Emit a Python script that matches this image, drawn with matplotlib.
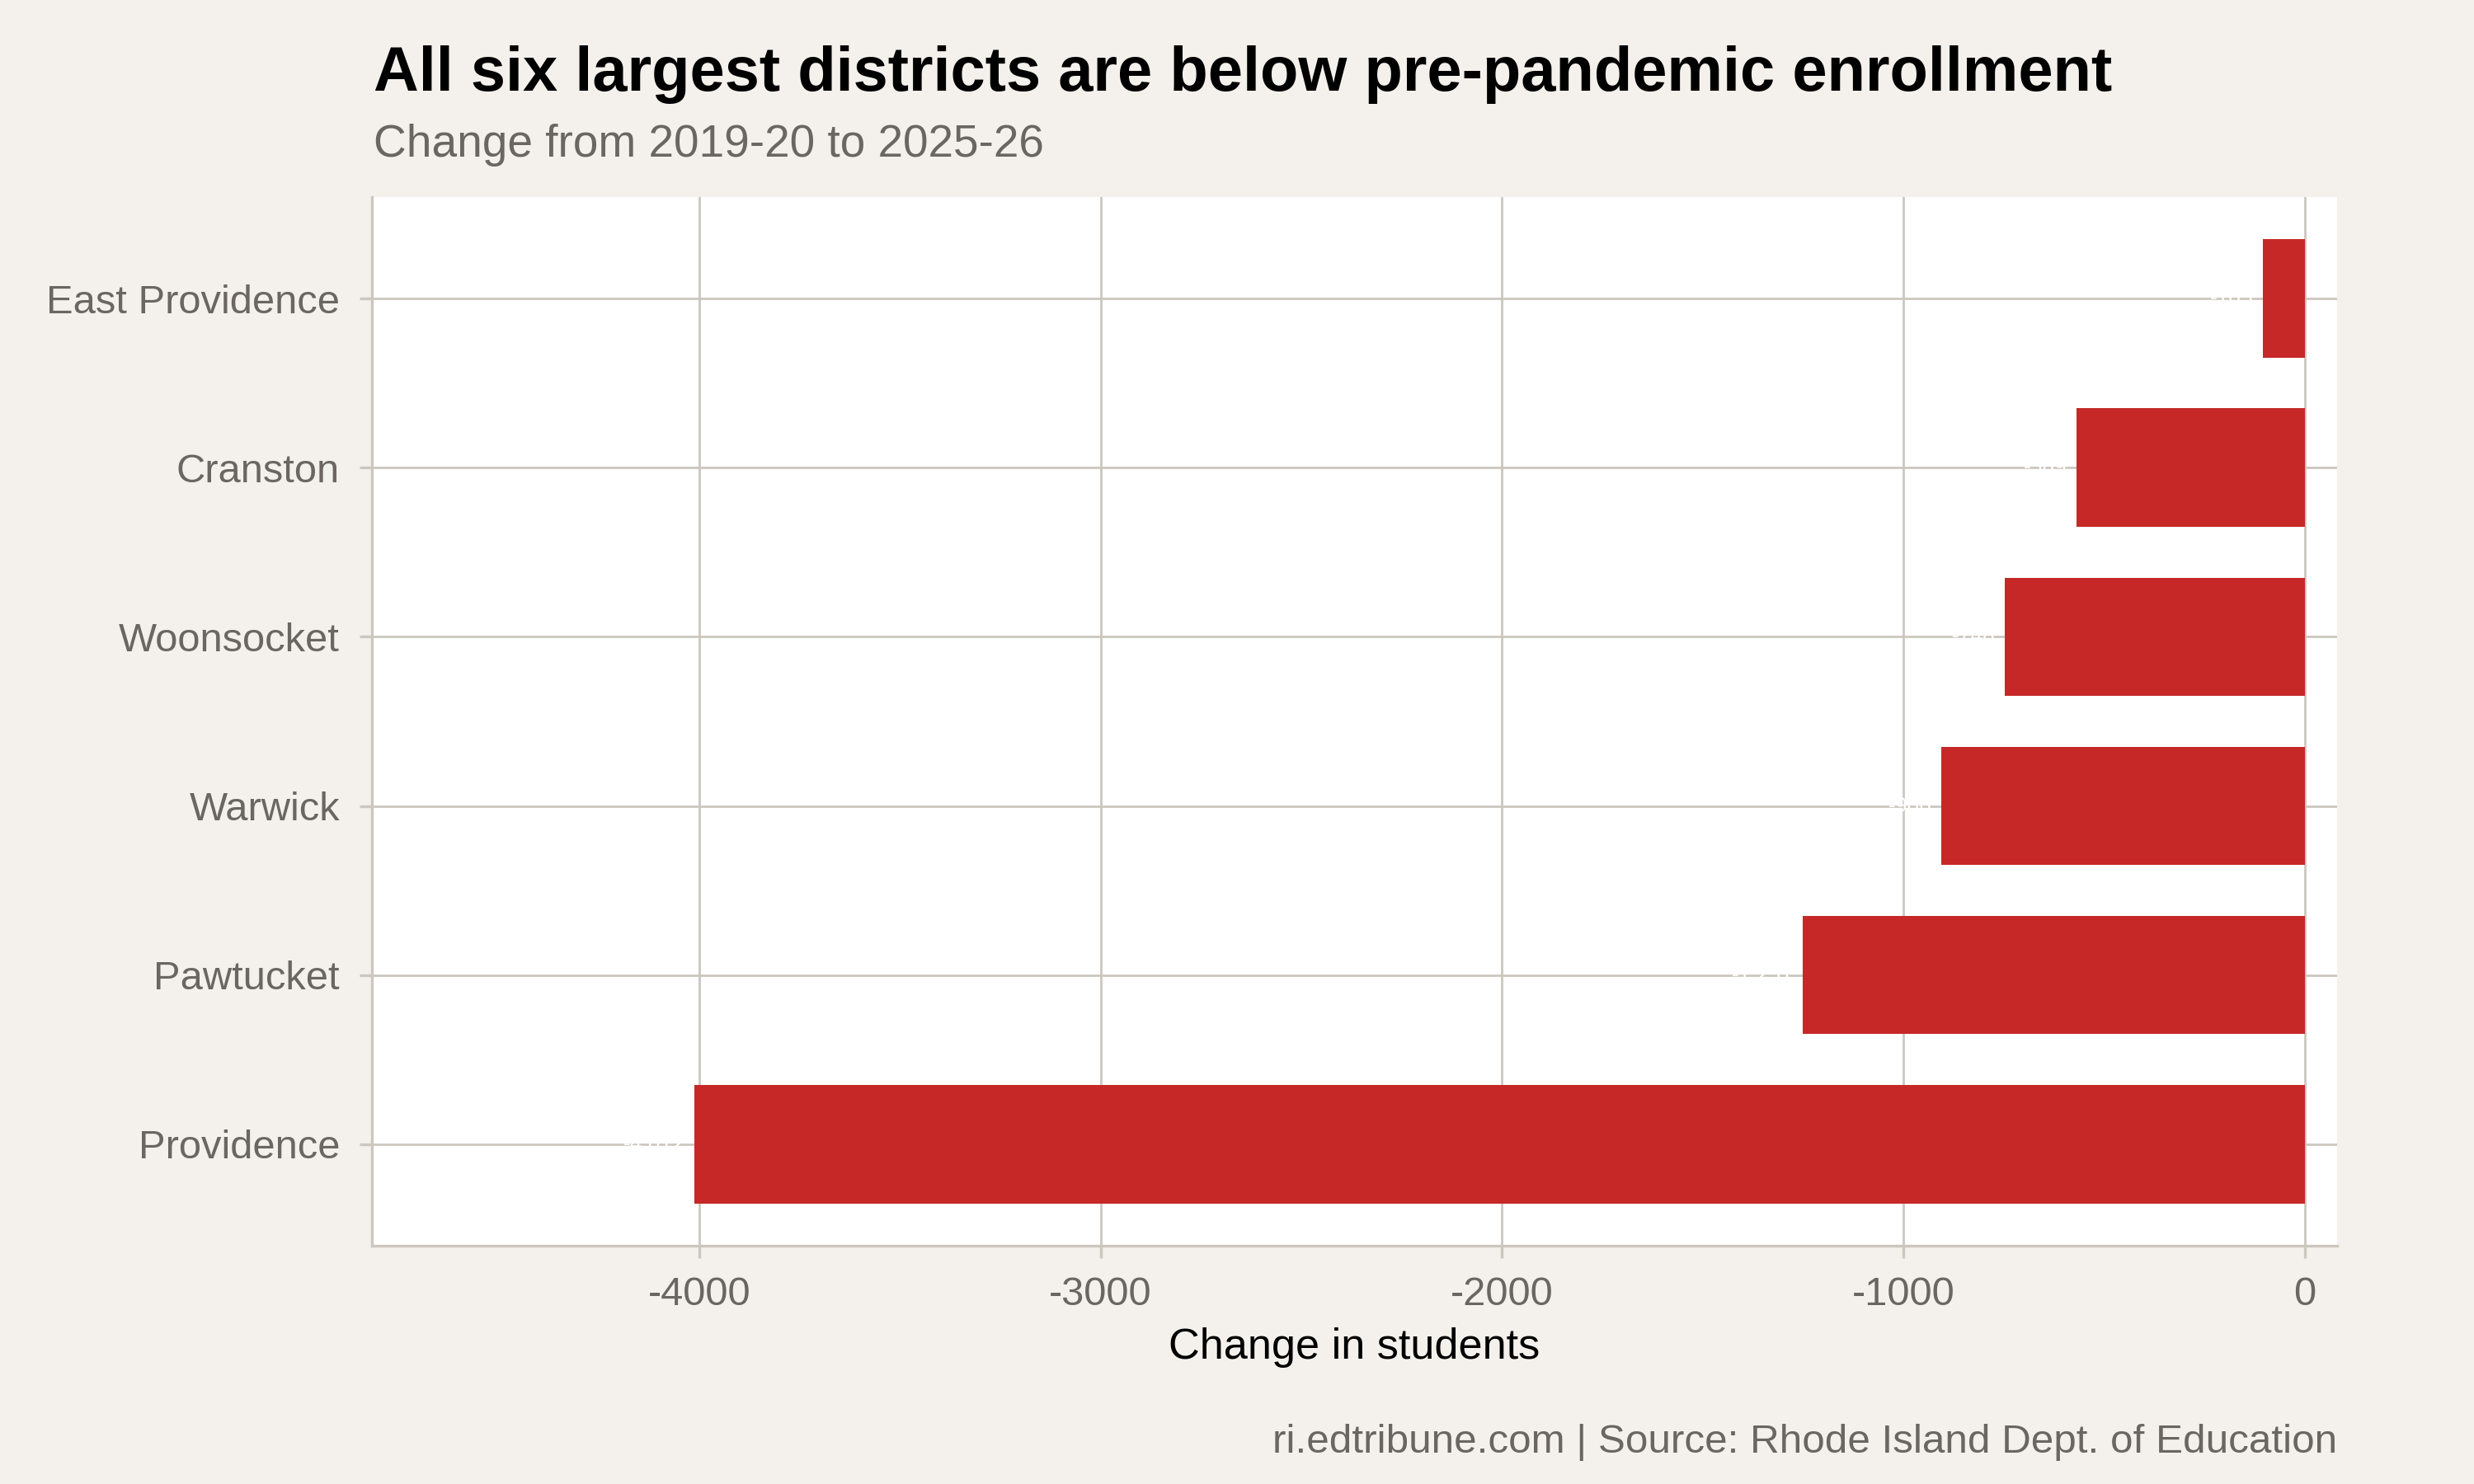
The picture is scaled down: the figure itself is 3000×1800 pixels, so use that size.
import matplotlib
matplotlib.use("Agg")
import matplotlib.pyplot as plt

districts = ["Providence", "Pawtucket", "Warwick", "Woonsocket", "Cranston", "East Providence"]
change = [-4012, -1251, -906, -748, -569, -105]
x_ticks = [-4000, -3000, -2000, -1000, 0]

BG = "#F4F1EC"
GRID = "#CCC7BE"
BAR = "#C62828"
GREY = "#6B6661"

plt.rcParams["font.family"] = ["Liberation Sans", "DejaVu Sans"]

fig = plt.figure(figsize=(15, 9), dpi=200, facecolor=BG)
ax = fig.add_axes([0.1503, 0.1606, 0.7944, 0.7066])
ax.set_facecolor("white")

ypos = list(range(1, len(districts) + 1))
ax.barh(ypos, change, height=0.7, color=BAR, zorder=3)
for y, v in zip(ypos, change):
    ax.annotate(f"{v:,}", xy=(v, y), xytext=(-4, 0), textcoords="offset points",
                ha="right", va="center", color="white", fontsize=9.5, zorder=4)

ax.set_xlim(-4815, 80)
ax.set_ylim(0.4, 6.6)
ax.set_yticks(ypos)
ax.set_yticklabels(districts)
ax.set_xticks(x_ticks)
ax.set_xticklabels([str(t) for t in x_ticks])

ax.grid(True, color=GRID, linewidth=1.0, zorder=0)
ax.set_axisbelow(True)
for s in ["top", "right"]:
    ax.spines[s].set_visible(False)
for s in ["left", "bottom"]:
    ax.spines[s].set_color(GRID)
    ax.spines[s].set_linewidth(1.2)
ax.tick_params(axis="x", colors=GRID, length=5.5, width=1.2, labelsize=17.6,
               labelcolor=GREY, pad=8)
ax.tick_params(axis="y", colors=GRID, length=5.5, width=1.2, labelsize=17.6,
               labelcolor=GREY, pad=8.5)

ax.set_xlabel("Change in students", fontsize=18.8, color="black", labelpad=6)

fig.text(0.151, 0.950, "All six largest districts are below pre-pandemic enrollment",
         fontsize=27.3, fontweight="bold", color="black", ha="left", va="center")
fig.text(0.151, 0.902, "Change from 2019-20 to 2025-26",
         fontsize=19.8, color=GREY, ha="left", va="center")
fig.text(0.9447, 0.028, "ri.edtribune.com | Source: Rhode Island Dept. of Education",
         fontsize=17.8, color=GREY, ha="right", va="center")

fig.savefig("out.png", dpi=200, facecolor=BG)
